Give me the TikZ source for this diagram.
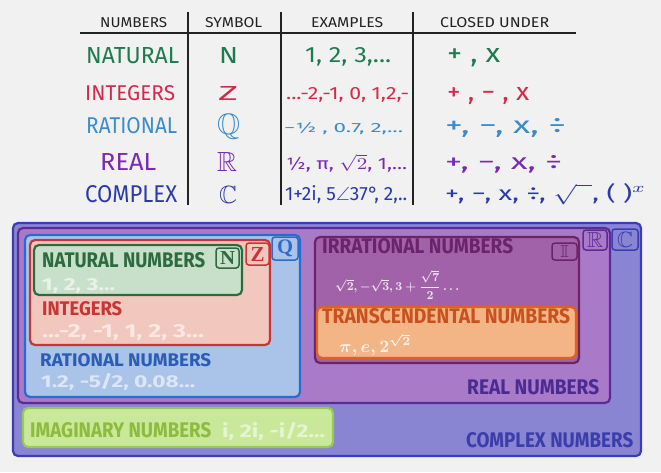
\documentclass[tikz,border=0pt]{standalone}
\usepackage{amsmath}
\usepackage{amssymb}
\usepackage{fontspec}
\setmainfont{Fira Sans}
\newfontfamily\serifbf{Liberation Serif}
\newcommand{\fitbox}[3]{\resizebox{#1pt}{#2pt}{#3}}
\newcommand{\fitw}[2]{\resizebox{#1pt}{!}{#2}}
\definecolor{bg}{HTML}{F1F1F1}
\definecolor{cplxFill}{HTML}{8985D3}\definecolor{cplxLine}{HTML}{3B3DB5}\definecolor{cplxText}{HTML}{3B3DAA}
\definecolor{realFill}{HTML}{A87AC8}\definecolor{realLine}{HTML}{5B2C96}\definecolor{realText}{HTML}{4A2B92}
\definecolor{ratFill}{HTML}{A9C3E9}\definecolor{ratLine}{HTML}{2B6BCB}\definecolor{ratText}{HTML}{2C5DB5}
\definecolor{intFill}{HTML}{F2C7BE}\definecolor{intLine}{HTML}{C93434}
\definecolor{natFill}{HTML}{C8DFCA}\definecolor{natLine}{HTML}{2C6B3E}
\definecolor{irrFill}{HTML}{A262AA}\definecolor{irrLine}{HTML}{6C2468}
\definecolor{trFill}{HTML}{F3B585}\definecolor{trLine}{HTML}{E0621E}\definecolor{trText}{HTML}{C9501F}
\definecolor{imFill}{HTML}{CAE899}\definecolor{imLine}{HTML}{97CA52}\definecolor{imText}{HTML}{8CBB3E}
\definecolor{tNat}{HTML}{1E7B50}\definecolor{tInt}{HTML}{D22A4C}\definecolor{tRat}{HTML}{3A8DCA}
\definecolor{tReal}{HTML}{7B2AB2}\definecolor{tCplx}{HTML}{2A3AAA}\definecolor{hdr}{HTML}{222222}
\begin{document}
\begin{tikzpicture}[x=1pt,y=-1pt,
  txt/.style={inner sep=0pt, anchor=base west},
  ctr/.style={inner sep=0pt, anchor=center},
  setbox/.style={rounded corners=5pt, line width=2.2pt},
  tagbox/.style={rounded corners=3pt, line width=1.5pt},
  rule/.style={line width=1.6pt, hdr},
  lbl/.style={inner sep=0pt, anchor=base west, font=\bfseries},
  ex/.style={inner sep=0pt, anchor=base west, font=\bfseries, white, opacity=0.6},
  hand/.style={inner sep=0pt, anchor=base west}]
\fill[bg] (0,0) rectangle (661,472);
\useasboundingbox (0,0) rectangle (661,472);
% ---------- table ----------
\node[hand, hdr] (h1) at (100,27) {\fitbox{67}{10}{NUMBERS}};
\node[hand, hdr] (h2) at (205,27) {\fitbox{57}{10}{SYMBOL}};
\node[hand, hdr] (h3) at (311,27) {\fitbox{72}{10}{EXAMPLES}};
\node[hand, hdr] (h4) at (440,27) {\fitbox{109}{10}{CLOSED UNDER}};
\coordinate (hl) at (80,33); \coordinate (hr) at (576,33);
\draw[rule] (hl) -- (hr);
\coordinate (v1t) at (188,12); \coordinate (v1b) at (188,205);
\coordinate (v2t) at (281,12); \coordinate (v2b) at (281,205);
\coordinate (v3t) at (413,12); \coordinate (v3b) at (413,205);
\draw[rule] (v1t) -- (v1b);
\draw[rule] (v2t) -- (v2b);
\draw[rule] (v3t) -- (v3b);
% row natural
\node[hand, tNat] (n1) at (86,63) {\fitbox{93}{16}{NATURAL}};
\node[hand, tNat] (n2) at (219,63) {\fitbox{19}{16}{N}};
\node[hand, tNat] (n3) at (305,62) {\fitbox{86}{15}{1, 2, 3,...}};
\node[hand, tNat] (n4) at (447,62) {\fitbox{53}{14}{+ , x}};
% row integers
\node[hand, tInt] (z1) at (85,100) {\fitbox{90}{15}{INTEGERS}};
\node[hand, tInt] (z2) at (218,100) {\fitbox{20}{14}{Z}};
\node[hand, tInt] (z3) at (286,99) {\fitbox{123}{12}{...-2,-1, 0, 1,2,-}};
\node[hand, tInt] (z4) at (447,100) {\fitbox{82}{13}{+ , − , x}};
% row rational
\node[hand, tRat] (q1) at (86,133) {\fitbox{91}{16}{RATIONAL}};
\node[hand, tRat] (q2) at (217,134) {\fitw{23}{$\mathbb{Q}$}};
\node[hand, tRat] (q3) at (284,132) {\fitbox{119}{10}{−½ , 0.7, 2,...}};
\node[hand, tRat] (q4) at (445,133) {\fitbox{121}{15}{+, −, x, ÷}};
% row real
\node[hand, tReal] (r1) at (100,170) {\fitbox{56}{17}{REAL}};
\node[hand, tReal] (r2) at (217,171) {\fitw{20}{$\mathbb{R}$}};
\node[hand, tReal] (r3) at (286,169) {\fitbox{121}{15}{½, π, $\sqrt{2}$, 1,...}};
\node[hand, tReal] (r4) at (445,169) {\fitbox{117}{14}{+, −, x, ÷}};
% row complex
\node[hand, tCplx] (c1) at (85,202) {\fitbox{92}{17}{COMPLEX}};
\node[hand, tCplx] (c2) at (219,203) {\fitw{18}{$\mathbb{C}$}};
\node[hand, tCplx] (c3) at (285,200) {\fitw{122}{1+2i, 5$\angle$37°, 2,..}};
\node[hand, tCplx] (c4) at (445,200) {\fitbox{201}{17}{+, −, x, ÷, $\sqrt{\phantom{x}}$, ( )$^{x}$}};
% ---------- sets ----------
\draw[setbox, fill=cplxFill, draw=cplxLine] (13,223) rectangle (641,456);
\draw[setbox, fill=realFill, draw=realLine] (18,228) rectangle (610,403);
\draw[setbox, fill=ratFill, draw=ratLine] (25,235) rectangle (300,397);
\draw[setbox, fill=intFill, draw=intLine] (30,240) rectangle (270,345);
\draw[setbox, fill=natFill, draw=natLine] (34,245) rectangle (242,295);
\draw[setbox, fill=irrFill, draw=irrLine] (315,237) rectangle (579,363);
\draw[setbox, fill=trFill, draw=trLine] (317,307) rectangle (576,358);
\draw[setbox, fill=imFill, draw=imLine] (23,408) rectangle (333,447);
% tags
\draw[tagbox, fill=natFill, draw=natLine] (216,248) rectangle (239,268);
\node[ctr, natLine] (tn) at (227.5,258) {\fitbox{15}{13}{\serifbf\bfseries N}};
\draw[tagbox, fill=intFill, draw=intLine] (246,243) rectangle (269,265);
\node[ctr, intLine] (tz) at (257.5,254) {\fitbox{14}{14}{\serifbf\bfseries Z}};
\draw[tagbox, fill=ratFill, draw=ratLine] (272,237) rectangle (298,260);
\node[ctr, ratLine] (tq) at (285,248) {\fitw{16}{\serifbf\bfseries Q}};
\draw[tagbox, fill=irrFill, draw=irrLine] (552,243) rectangle (577,260);
\node[ctr, irrLine] (ti) at (564.5,251.5) {\fitbox{9}{12}{$\mathbb{I}$}};
\draw[tagbox, fill=realFill, draw=realLine] (583,230) rectangle (607,250);
\node[ctr, realLine] (tr) at (595,240) {\fitbox{16}{15}{$\mathbb{R}$}};
\draw[tagbox, fill=cplxFill, draw=cplxLine] (612,229) rectangle (638,250);
\node[ctr, cplxLine] (tc) at (625,239.5) {\fitw{16}{$\mathbb{C}$}};
% labels
\node[lbl, natLine] (Lnat) at (42,267) {\fitbox{163}{15}{NATURAL NUMBERS}};
\node[ex] (Enat) at (42,290) {\fitbox{73}{12}{1, 2, 3...}};
\node[lbl, intLine] (Lint) at (42,315) {\fitbox{80}{14}{INTEGERS}};
\node[ex] (Eint) at (42,337) {\fitbox{162}{13}{...-2, -1, 1, 2, 3...}};
\node[lbl, ratText] (Lrat) at (40,366) {\fitbox{171}{13}{RATIONAL NUMBERS}};
\node[ex] (Erat) at (41,387) {\fitbox{154}{14}{1.2, -5/2, 0.08...}};
\node[lbl, realText] (Lreal) at (467,394) {\fitbox{132}{15}{REAL NUMBERS}};
\node[lbl, cplxText] (Lcplx) at (466,447) {\fitbox{167}{15}{COMPLEX NUMBERS}};
\node[lbl, imText] (Lim) at (30,437) {\fitbox{181}{15}{IMAGINARY NUMBERS}};
\node[ex, opacity=0.55] (Eim) at (222,437) {\fitbox{103}{15}{i, 2i, -i/2...}};
\node[lbl, irrLine] (Lirr) at (322,253) {\fitbox{191}{15}{IRRATIONAL NUMBERS}};
\node[inner sep=0pt, anchor=west, white, opacity=0.85] (Eirr) at (335,285) {\fitw{124}{\boldmath$\sqrt{2},-\sqrt{3},3+\dfrac{\sqrt{7}}{2}\ldots$}};
\node[lbl, trText] (Ltr) at (322,323) {\fitbox{248}{15}{TRANSCENDENTAL NUMBERS}};
\node[txt, white, opacity=0.85] (Etr) at (339,352) {\fitw{72}{\boldmath$\pi,e,2^{\sqrt{2}}$}};
\end{tikzpicture}
\end{document}
